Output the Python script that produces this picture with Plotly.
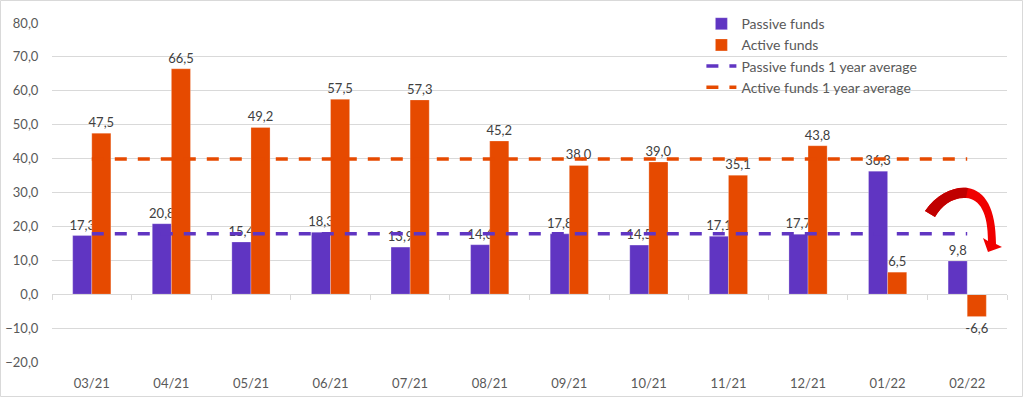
import plotly.graph_objects as go

categories = ["03/21", "04/21", "05/21", "06/21", "07/21", "08/21",
              "09/21", "10/21", "11/21", "12/21", "01/22", "02/22"]
passive_funds = [17.3, 20.8, 15.4, 18.3, 13.9, 14.6, 17.8, 14.5, 17.1, 17.7, 36.3, 9.8]
active_funds = [47.5, 66.5, 49.2, 57.5, 57.3, 45.2, 38.0, 39.0, 35.1, 43.8, 6.5, -6.6]
passive_avg = 17.8
active_avg = 39.9
y_ticks = [-20, -10, 0, 10, 20, 30, 40, 50, 60, 70, 80]

PURPLE = "#6035C2"
ORANGE = "#E64A00"
FONT = "Lato"

W, H = 1024, 398
L, R, T, B = 52, 17, 23, 36
PW = W - L - R
PH = H - T - B


def px(x, y):
    return (x - L) / PW, (H - B - y) / PH


def path(cmds):
    out = []
    for c in cmds:
        if isinstance(c, str):
            out.append(c)
        else:
            xx, yy = px(*c)
            out.append(f"{xx:.5f},{yy:.5f}")
    return " ".join(out)


fig = go.Figure()
fig.add_trace(go.Bar(
    name="Passive funds", x=categories, y=passive_funds,
    marker=dict(color=PURPLE, line=dict(color="rgba(255,255,255,0.5)", width=0.5)),
    texttemplate="%{y:.1f}", textposition="outside", cliponaxis=False,
    constraintext="none",
    textfont=dict(family=FONT, size=13, color="#404040"),
))
fig.add_trace(go.Bar(
    name="Active funds", x=categories, y=active_funds,
    marker=dict(color=ORANGE, line=dict(color="rgba(255,255,255,0.5)", width=0.5)),
    texttemplate="%{y:.1f}", textposition="outside", cliponaxis=False,
    constraintext="none",
    textfont=dict(family=FONT, size=13, color="#404040"),
))
fig.add_trace(go.Scatter(
    name="Passive funds 1 year average", x=categories, y=[passive_avg] * len(categories),
    mode="lines", line=dict(color=PURPLE, width=3.5, dash="12px,11px"),
))
fig.add_trace(go.Scatter(
    name="Active funds 1 year average", x=categories, y=[active_avg] * len(categories),
    mode="lines", line=dict(color=ORANGE, width=3.5, dash="12px,11px"),
))
# helper trace for the tick axis drawn at zero
fig.add_trace(go.Scatter(
    x=categories, y=[0] * len(categories), xaxis="x2", mode="lines",
    line=dict(width=0), showlegend=False, hoverinfo="skip",
))

arrow = path(["M", (925, 211), "C", (937, 193), (955, 186), (968, 188),
              "C", (985, 191), (996, 208), (996, 244),
              "L", (1002, 247), "L", (988, 252), "L", (983, 238), "L", (988, 241),
              "C", (988, 213), (980, 199), (966, 198),
              "C", (953, 197), (942, 205), (935, 217), "Z"])
arrow_tail = path(["M", (925, 211), "C", (937, 193), (955, 186), (968, 188),
                   "L", (966, 198), "C", (953, 197), (942, 205), (935, 217), "Z"])

bx0, by0 = px(0.5, 0.5)
bx1, by1 = px(W - 1.5, H - 1.5)

xrange = [-0.5, len(categories) - 0.5]

fig.update_layout(
    width=W, height=H,
    margin=dict(l=L, r=R, t=T, b=B, autoexpand=False),
    paper_bgcolor="white", plot_bgcolor="white",
    separators=",.",
    barmode="group", bargap=0.52, bargroupgap=0,
    font=dict(family=FONT, color="#595959"),
    showlegend=True,
    legend=dict(
        x=0.68, y=1.044, xanchor="left", yanchor="top",
        bgcolor="rgba(0,0,0,0)", font=dict(family=FONT, size=14, color="#595959"),
        itemwidth=30, tracegroupgap=0,
    ),
    xaxis=dict(
        type="category", range=xrange, showgrid=False, showline=False, zeroline=False,
        ticks="outside", ticklen=9, tickcolor="rgba(0,0,0,0)", automargin=False,
        tickfont=dict(family=FONT, size=13, color="#595959"),
    ),
    xaxis2=dict(
        type="category", range=xrange, overlaying="x", anchor="free", position=20 / 100,
        showgrid=False, showline=True, linecolor="#d9d9d9", linewidth=1,
        ticks="outside", tickson="boundaries", ticklen=5, tickcolor="#d9d9d9",
        showticklabels=False, automargin=False,
    ),
    yaxis=dict(
        range=[-20, 80], tickvals=y_ticks, tickformat=".1f",
        showgrid=True, gridcolor="#d9d9d9", gridwidth=1,
        zeroline=False, showline=False, automargin=False,
        ticks="outside", ticklen=10, tickcolor="rgba(0,0,0,0)",
        tickfont=dict(family=FONT, size=13, color="#595959"),
    ),
    shapes=[
        dict(type="path", xref="paper", yref="paper", path=arrow,
             fillcolor="#F00000", line=dict(width=0), layer="above"),
        dict(type="path", xref="paper", yref="paper", path=arrow_tail,
             fillcolor="#C00000", line=dict(width=0), layer="above"),
        dict(type="rect", xref="paper", yref="paper", x0=bx0, x1=bx1, y0=by1, y1=by0,
             line=dict(color="#d9d9d9", width=1), fillcolor="rgba(0,0,0,0)", layer="below"),
    ],
)

fig.write_html(
    "out.html",
    config={"displayModeBar": False},
    post_script="document.body.style.margin='0';document.body.style.overflow='hidden';",
)
